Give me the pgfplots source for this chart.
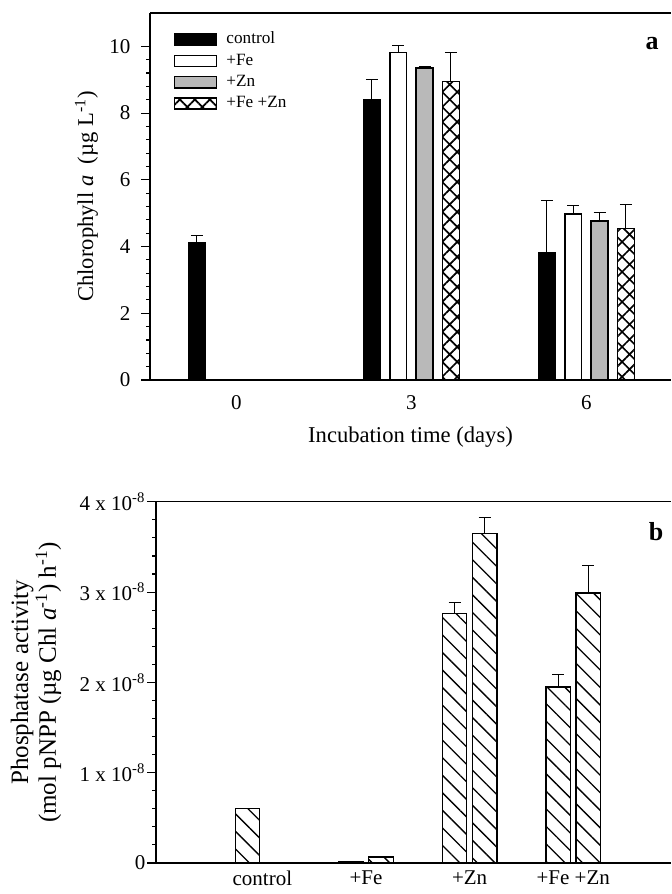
\documentclass[border=0pt]{standalone}
\usepackage{fontspec}
\setmainfont{Liberation Serif}
\usepackage{pgfplots}
\pgfplotsset{compat=1.18}
\usetikzlibrary{patterns.meta}

\pgfplotsset{
  panel/.style={
    scale only axis,
    axis x line*=box,
    axis y line*=left,
    axis line style={line width=0.6pt, black},
    tick align=outside,
    major tick length=4.3pt,
    minor tick length=1.8pt,
    tick style={black, line width=0.55pt},
    x tick style={draw=none},
    tick label style={font=\fontsize{10.5}{12}\selectfont},
    /pgf/number format/assume math mode=true,
    ybar,
    error bars/y dir=plus,
    error bars/y explicit,
    error bars/error bar style={black, line width=0.5pt},
    error bars/error mark options={black, line width=0.5pt, mark size=3pt, rotate=90},
  },
  sqleg/.style={legend image code/.code={\draw[##1, line width=0.8pt] (0pt,-2.8pt) rectangle (21pt,2.8pt);}},
  hatchb/.style={draw=black, line width=0.65pt,
    pattern={Lines[angle=-45, distance=6.2pt, line width=0.65pt]}},
}

\begin{document}
\begin{tikzpicture}
\useasboundingbox (0,0) rectangle (335.5pt,447pt);

% panel a: chlorophyll a
\begin{axis}[panel,
  at={(75pt,257pt)}, anchor=south west,
  width=260.5pt, height=183.5pt,
  xmin=-1.48, xmax=7.45, ymin=0, ymax=11,
  xtick={0,3,6},
  ytick={0,2,4,6,8,10}, minor y tick num=4,
  yticklabel style={xshift=-2pt},
  bar width=0.29,
  xlabel={Incubation time (days)},
  ylabel={Chlorophyll \textit{a}\ \ (µg L\textsuperscript{-1})},
  label style={font=\fontsize{11.3}{13}\selectfont},
  xlabel style={at={(axis description cs:0.5,-0.1553)}, anchor=center},
  ylabel style={at={(axis description cs:-0.1219,0.5)}, anchor=center},
  legend style={at={(0.045,0.955)}, anchor=north west, draw=none, fill=none,
    inner sep=0pt, font=\fontsize{8.6}{10}\selectfont, row sep=1.5pt,
    nodes={inner sep=1pt},
    /tikz/every odd column/.append style={column sep=3.5pt}},
  legend cell align=left,
]
\addplot[sqleg, fill=black, draw=black, line width=0.75pt, bar shift=-0.676]
  coordinates {(0,4.11) +- (0,0.21) (3,8.41) +- (0,0.60) (6,3.80) +- (0,1.59)};
\addplot[sqleg, fill=white, draw=black, line width=0.75pt, bar shift=-0.225]
  coordinates {(3,9.82) +- (0,0.21) (6,4.98) +- (0,0.24)};
\addplot[sqleg, fill=gray!55, draw=black, line width=0.75pt, bar shift=0.225]
  coordinates {(3,9.35) +- (0,0.06) (6,4.77) +- (0,0.25)};
\addplot[sqleg, draw=black, line width=0.75pt, bar shift=0.676,
  pattern={Hatch[angle=45, distance=5.3pt, line width=0.85pt]}]
  coordinates {(3,8.95) +- (0,0.87) (6,4.54) +- (0,0.71)};
\legend{control, +Fe, +Zn, +Fe +Zn}
\end{axis}

% panel b: phosphatase activity
\begin{axis}[panel,
  at={(78pt,15.5pt)}, anchor=south west,
  width=257.5pt, height=180.6pt,
  xmin=-1.027, xmax=3.944, ymin=0, ymax=4,
  xtick={0,1,2,3},
  xticklabels={control, +Fe, +Zn, +Fe +Zn},
  xticklabel style={inner sep=1pt, yshift=1.5pt},
  ytick={0,1,2,3,4}, minor y tick num=4,
  yticklabels={0, 1 x 10\textsuperscript{-8}, 2 x 10\textsuperscript{-8}, 3 x 10\textsuperscript{-8}, 4 x 10\textsuperscript{-8}},
  yticklabel style={inner sep=0.8pt},
  bar width=0.236,
  ylabel={Phosphatase activity\\(mol pNPP (µg Chl \textit{a}\textsuperscript{-1}) h\textsuperscript{-1})},
  ylabel style={at={(axis description cs:-0.233,0.5)}, anchor=center, align=center,
    font=\fontsize{12.5}{11.5}\selectfont},
]
% first bar of each pair
\addplot[hatchb, bar shift=-0.145, error bars/y dir=none]
  coordinates {(0,0.60) (1,0.012)};
\addplot[hatchb, bar shift=-0.145]
  coordinates {(2,2.76) +- (0,0.13) (3,1.95) +- (0,0.14)};
% second bar of each pair
\addplot[hatchb, bar shift=0.145, error bars/y dir=none]
  coordinates {(1,0.065)};
\addplot[hatchb, bar shift=0.145]
  coordinates {(2,3.65) +- (0,0.18) (3,2.99) +- (0,0.30)};
\end{axis}

\node[font=\bfseries\fontsize{13}{15}\selectfont] at (326pt,425pt) {a};
\node[font=\bfseries\fontsize{13}{15}\selectfont] at (328pt,181pt) {b};
\end{tikzpicture}
\end{document}
